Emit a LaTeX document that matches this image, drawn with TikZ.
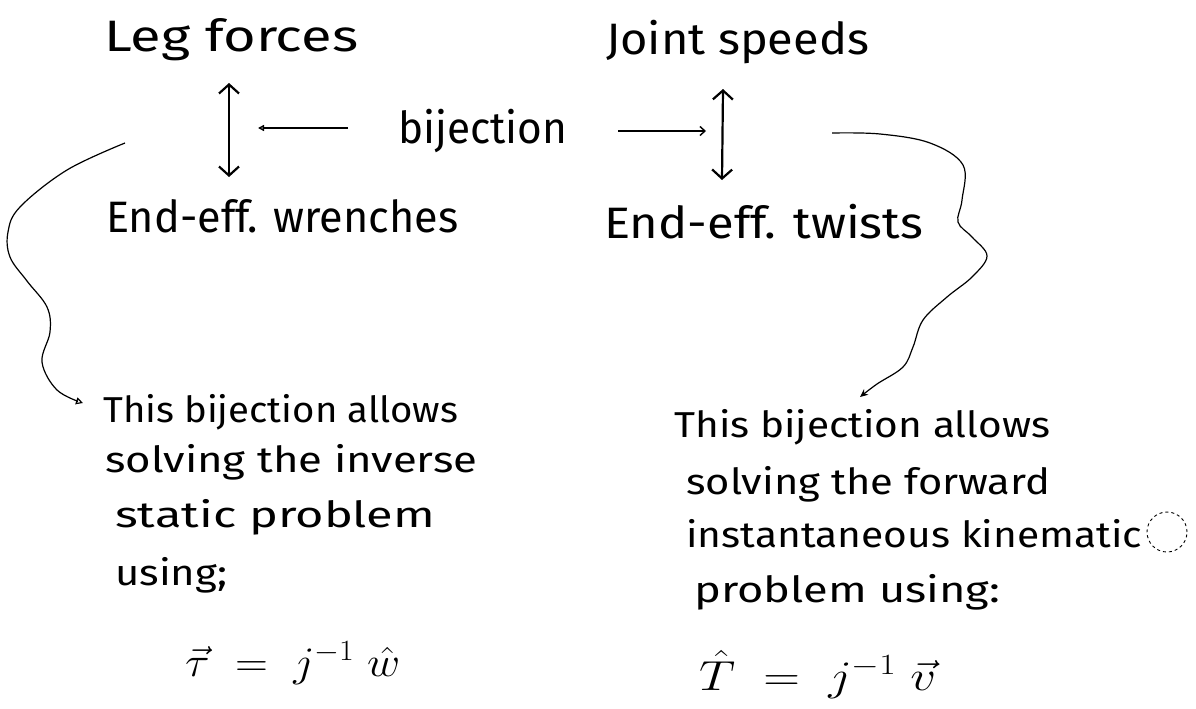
\RequirePackage{fix-cm}
\documentclass[tikz,border=0pt]{standalone}
\usepackage{fontspec}
\setmainfont{Fira Sans}
\usepackage{graphicx}
\usetikzlibrary{arrows.meta}
\newcommand\sw[2]{\resizebox{#1pt}{\height}{#2}}
\tikzset{
  toplab/.style={inner sep=0pt, anchor=base west, font=\fontsize{44}{50}\selectfont},
  botlab/.style={inner sep=0pt, anchor=base west, font=\fontsize{36}{42}\selectfont},
  formula/.style={inner sep=0pt, anchor=base west, font=\fontsize{42}{48}\selectfont},
  dblarrow/.style={line width=2.2pt, {Straight Barb[length=9pt,width=20pt]}-{Straight Barb[length=9pt,width=20pt]}},
  bijleft/.style={line width=1.4pt, -{Triangle[open,length=6pt,width=6pt]}},
  bijright/.style={line width=1.4pt, -{Straight Barb[length=5pt,width=9pt]}},
  curveline/.style={line width=1.2pt},
}
\begin{document}
\begin{tikzpicture}[x=1pt,y=-1pt]
\fill[white] (0,0) rectangle (1196,709);
\useasboundingbox (0,0) rectangle (1196,709);
% top labels
\node[toplab] (leg) at (104,52) {\sw{254}{Leg forces}};
\node[toplab] (joint) at (606,55) {\sw{263}{Joint speeds}};
\node[toplab] (bij) at (398,143) {\sw{169}{bijection}};
\node[toplab] (wr) at (106,232) {\sw{352}{End-eff. wrenches}};
\node[toplab] (tw) at (604,238) {\sw{319}{End-eff. twists}};
% coordinates of arrows
\coordinate (lt) at (229,83);
\coordinate (lb) at (229,177);
\coordinate (rt) at (723,89);
\coordinate (rb) at (722,180);
\coordinate (lm) at (229,128);
\coordinate (rm) at (723,131);
\coordinate (bl0) at (348,128);
\coordinate (br0) at (618,131);
\draw[dblarrow] (lt) -- (lb);
\draw[dblarrow] (rt) -- (rb);
\draw[bijleft, shorten >=29pt] (bl0) -- (lm);
\draw[bijright, shorten >=17pt] (br0) -- (rm);
% bottom left text
\node[botlab] (l1) at (103,422) {\sw{355}{This bijection allows}};
\node[botlab] (l2) at (105,472) {\sw{372}{solving the inverse}};
\node[botlab] (l3) at (115,527) {\sw{320}{static problem}};
\node[botlab] (l4) at (115,585) {\sw{112}{using;}};
\node[formula] (lf) at (185,676) {\sw{215}{$\vec{\tau}\;=\;j^{-1}\;\hat{w}$}};
% bottom right text
\node[botlab] (r1) at (674,437) {\sw{376}{This bijection allows}};
\node[botlab] (r2) at (686,494) {\sw{364}{solving the forward}};
\node[botlab] (r3) at (686,547) {\sw{456}{instantaneous kinematic}};
\node[circle, draw, dashed, line width=0.9pt, minimum size=40pt, inner sep=0pt] (ks) at (1167,532) {};
\node[botlab] (r4) at (694,602) {\sw{306}{problem using:}};
\node[formula] (rf) at (699,690) {\sw{237}{$\hat{T}\;=\;j^{-1}\;\vec{v}$}};
% curved connectors
\coordinate (lc0) at (125,143);
\coordinate (lct) at (83,403);
\coordinate (rc0) at (832,133);
\coordinate (rct) at (860,397);
\draw[curveline, -{Triangle[open,length=7pt,width=7pt]}] plot[smooth, tension=0.6] coordinates {(lc0) (67,170) (20,207) (8,232) (10,257) (27,281) (47,307) (50,332) (42,362) (57,390) (lct)};
\draw[curveline, -{Stealth[length=8pt,width=7pt]}] plot[smooth, tension=0.6] coordinates {(rc0) (880,134) (930,143) (963,165) (962,200) (958,222) (972,237) (987,256) (972,277) (947,297) (923,320) (913,347) (903,367) (877,384) (rct)};
\end{tikzpicture}
\end{document}
